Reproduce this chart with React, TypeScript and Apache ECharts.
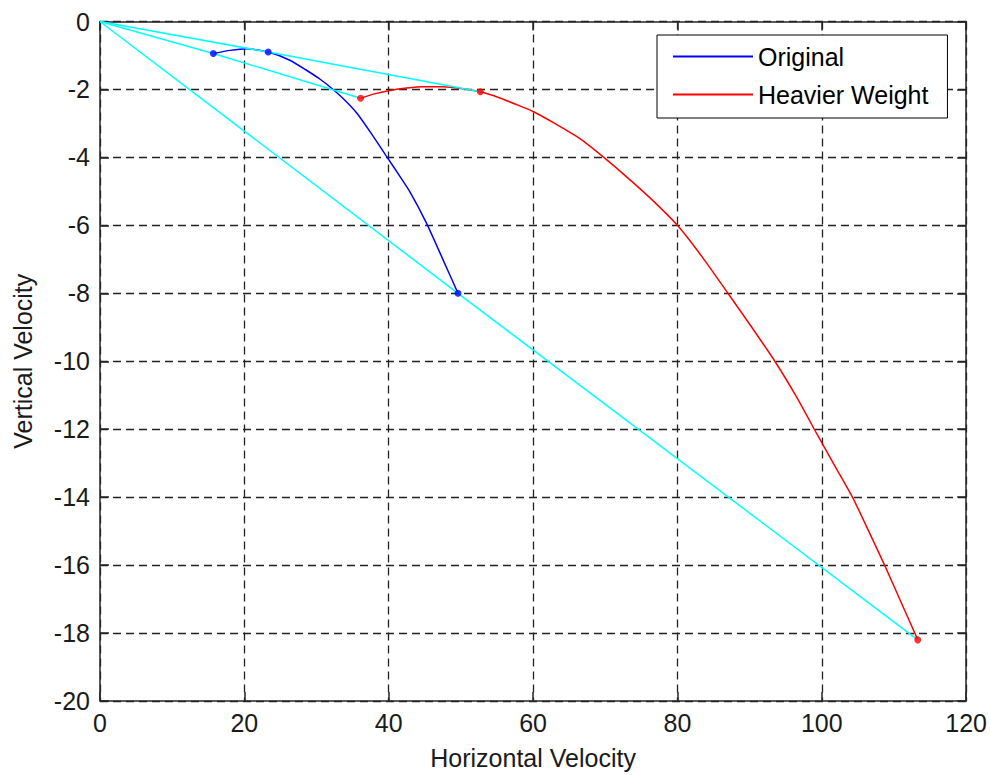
import React, { useEffect, useRef } from "react";
import * as echarts from "echarts";

// Original curve
const origX = [15.7, 18.0, 20.3, 23.3, 26.3, 28.5, 30.5, 32.3, 34.0, 35.6, 37.6, 39.7, 41.3, 42.9, 45.2, 47.5, 49.6];
const origY = [-0.94, -0.85, -0.8, -0.9, -1.14, -1.42, -1.7, -2.0, -2.33, -2.7, -3.3, -3.97, -4.48, -5.0, -5.92, -7.0, -8.0];
const origMarkX = [15.7, 23.3, 49.6];
const origMarkY = [-0.94, -0.9, -8.0];

// Heavier Weight curve
const heavyX = [36.1, 38.0, 40.2, 42.5, 44.8, 47.5, 50.0, 52.7, 55.4, 58.0, 60.0, 63.0, 66.5, 69.8, 73.0, 76.5, 80.0, 83.5, 87.0, 90.3, 93.5, 96.5, 99.4, 102.0, 104.3, 106.5, 108.7, 111.0, 113.3];
const heavyY = [-2.26, -2.13, -2.03, -1.96, -1.92, -1.92, -1.97, -2.07, -2.25, -2.47, -2.65, -3.0, -3.45, -4.0, -4.58, -5.25, -6.0, -6.95, -8.0, -9.0, -10.0, -11.05, -12.17, -13.15, -14.02, -15.0, -16.0, -17.1, -18.2];
const heavyMarkX = [36.1, 52.7, 113.3];
const heavyMarkY = [-2.26, -2.07, -18.2];

// Cyan connecting lines
const cyan1X = [0, 15.7, 36.1];
const cyan1Y = [0, -0.94, -2.26];
const cyan2X = [0, 23.3, 52.7];
const cyan2Y = [0, -0.9, -2.07];
const cyan3X = [0, 49.6, 113.3];
const cyan3Y = [0, -8.0, -18.2];

const FONT = "'Liberation Sans', Arial, Helvetica, sans-serif";
const zip = (xs: number[], ys: number[]) => xs.map((x, i) => [x, ys[i]]);

export default function App() {
  const ref = useRef<HTMLDivElement>(null);
  useEffect(() => {
    if (!ref.current) return;
    const chart = echarts.init(ref.current, null, { renderer: "svg" });
    const axisColor = "#262626";
    const axisLine = { show: true, onZero: false, lineStyle: { color: axisColor, width: 1.5 } };
    const axisTick = { show: true, inside: true, length: 9, lineStyle: { color: axisColor, width: 1.5 } };
    const splitLine = { show: true, lineStyle: { color: "#222", type: [8, 5], width: 1.3 } };
    const label = { fontSize: 25, color: "#1a1a1a", fontFamily: FONT };
    const cyanSeries = (name: string, xs: number[], ys: number[]) => ({
      name,
      type: "line",
      data: zip(xs, ys),
      symbol: "none",
      silent: true,
      lineStyle: { color: "#00ffff", width: 1.5 },
      z: 3,
    });
    chart.setOption({
      animation: false,
      backgroundColor: "#fff",
      grid: { left: 100, top: 21.5, right: 23, bottom: 70, containLabel: false },
      xAxis: [
        {
          type: "value", min: 0, max: 120, interval: 20, position: "bottom",
          name: "Horizontal Velocity", nameLocation: "middle", nameGap: 44,
          nameTextStyle: { fontSize: 25, color: "#1a1a1a", fontFamily: FONT },
          axisLine, axisTick, axisLabel: { ...label, margin: 9 }, splitLine,
        },
        {
          type: "value", min: 0, max: 120, interval: 20, position: "top",
          axisLine, axisTick, axisLabel: { show: false }, splitLine: { show: false },
        },
      ],
      yAxis: [
        {
          type: "value", min: -20, max: 0, interval: 2, position: "left",
          name: "Vertical Velocity", nameLocation: "middle", nameGap: 65,
          nameTextStyle: { fontSize: 25, color: "#1a1a1a", fontFamily: FONT },
          axisLine, axisTick, axisLabel: { ...label, margin: 10 }, splitLine,
        },
        {
          type: "value", min: -20, max: 0, interval: 2, position: "right",
          axisLine, axisTick, axisLabel: { show: false }, splitLine: { show: false },
        },
      ],
      legend: {
        data: [
          { name: "Original", icon: "rect" },
          { name: "Heavier Weight", icon: "rect" },
        ],
        orient: "vertical",
        left: 657,
        top: 35,
        itemWidth: 80,
        itemHeight: 2,
        itemGap: 13,
        padding: [9, 19, 11, 16],
        borderColor: "#000",
        borderWidth: 1,
        backgroundColor: "#fff",
        textStyle: { fontSize: 25, color: "#000", fontFamily: FONT },
      },
      series: [
        {
          name: "Original", type: "line", data: zip(origX, origY), symbol: "none", smooth: 0.2,
          color: "#0000ff", lineStyle: { color: "#0000ff", width: 1.5 }, z: 2,
        },
        {
          name: "Heavier Weight", type: "line", data: zip(heavyX, heavyY), symbol: "none", smooth: 0.2,
          color: "#ff0000", lineStyle: { color: "#ff0000", width: 1.5 }, z: 2,
        },
        cyanSeries("c1", cyan1X, cyan1Y),
        cyanSeries("c2", cyan2X, cyan2Y),
        cyanSeries("c3", cyan3X, cyan3Y),
        {
          name: "origPts", type: "scatter", data: zip(origMarkX, origMarkY),
          symbol: "circle", symbolSize: 7, itemStyle: { color: "#0000ff" }, z: 4, silent: true,
        },
        {
          name: "heavyPts", type: "scatter", data: zip(heavyMarkX, heavyMarkY),
          symbol: "circle", symbolSize: 7, itemStyle: { color: "#ff0000" }, z: 4, silent: true,
        },
      ],
    });
    return () => chart.dispose();
  }, []);
  return (
    <div
      ref={ref}
      style={{ position: "fixed", left: 0, top: 0, width: 990, height: 775, background: "#fff" }}
    />
  );
}
